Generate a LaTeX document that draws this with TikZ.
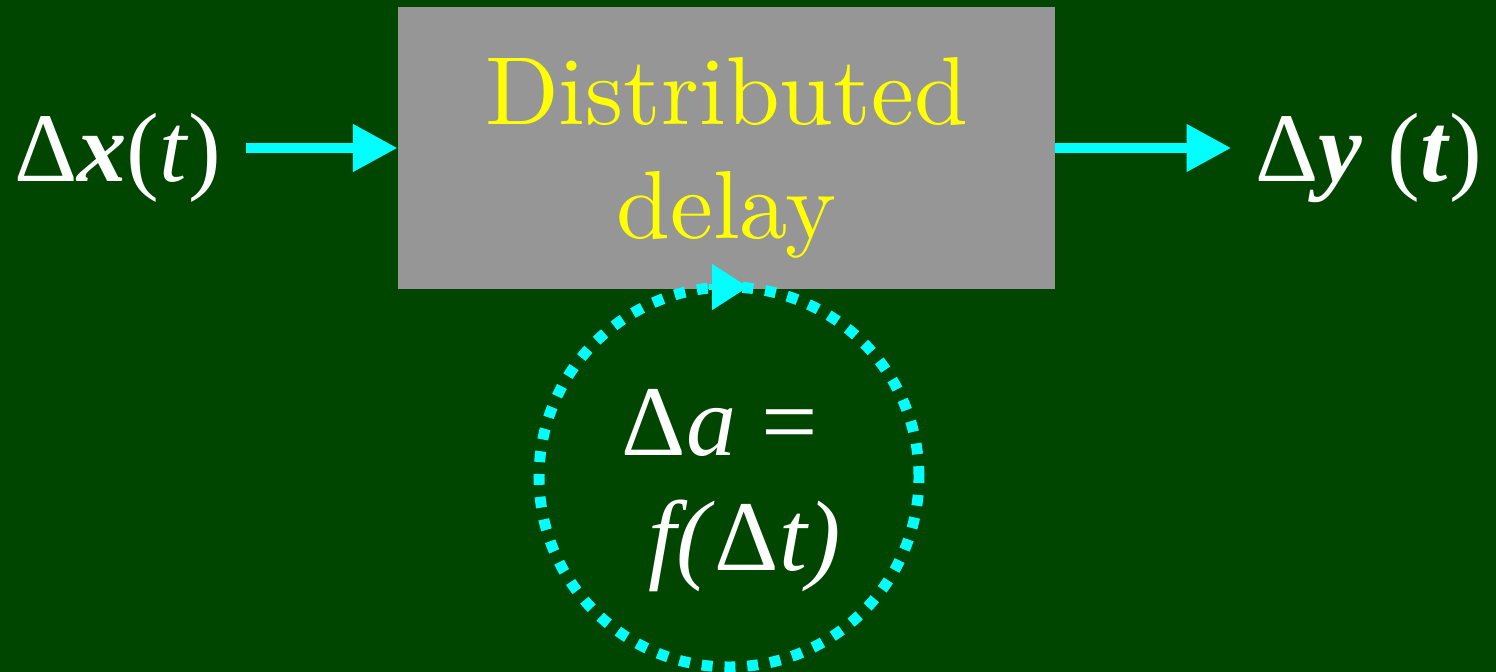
\documentclass[tikz,border=0pt]{standalone}
\usepackage{fontspec}
\usepackage{tikz}
\usetikzlibrary{arrows.meta,positioning,shapes.geometric}
\newfontfamily\timesrm{Liberation Serif}
\newfontfamily\schoolrm{lmroman10-regular.otf}
\definecolor{bggreen}{HTML}{004600}
\definecolor{boxgray}{HTML}{969696}
\definecolor{flowcyan}{HTML}{00FFFF}
\definecolor{labelyellow}{HTML}{FFFF00}

\begin{document}
\begin{tikzpicture}[x=0.02cm, y=-0.02cm,
  flow/.style     ={draw=flowcyan, line width=6.2pt, -{Triangle[length=25.5pt, width=25.5pt]}},
  loopTip/.style  ={draw=flowcyan, line width=3pt, -{Triangle[length=20.4pt, width=25.5pt]}},
  sigLabel/.style ={font={\timesrm\fontsize{56}{60}\selectfont}, text=white, inner xsep=13.5pt, inner ysep=0pt, anchor=base},
  delayBox/.style ={rectangle, fill=boxgray, minimum width=13.14cm, minimum height=5.64cm, inner sep=0pt,
                    align=center, font={\schoolrm\fontsize{55}{64.6}\selectfont}, text=labelyellow, text depth=0pt},
  loopCircle/.style={circle, draw=flowcyan, line width=6.2pt, dash pattern=on 6.2pt off 6.8pt,
                    minimum size=7.6cm, inner sep=0pt, outer sep=0pt},
  loopText/.style ={font={\timesrm\fontsize{57}{65.8}\selectfont}, text=white, align=center,
                    inner sep=0pt, text depth=0pt, anchor=south},
]
\fill[bggreen] (0,0) rectangle (1496,672);
\useasboundingbox (0,0) rectangle (1496,672);

% block and signals
\node[delayBox] (delay) at (726.5,148) {Distributed\\delay};
\node[sigLabel] (xin)  at (118,182)  {Δ\textbf{\textit{x}}(\textit{t})};
\node[sigLabel] (yout) at (1369,182) {Δ\textbf{\textit{y}}~(\textbf{\textit{t}})};

\draw[flow] (xin.east |- delay.west) -- (delay.west);
\draw[flow] (delay.east) -- (yout.west |- delay.east);

% feedback loop
\node[loopCircle] (loop) at (729,477) {};
\node[loopText] (rule) at (732,571) {Δ\textit{a} =\hspace*{14pt}\\~\textit{f(}Δ\textit{t)}};
\draw[loopTip] (loop.north) ++(-20,0) -- ++(39,0);
\end{tikzpicture}
\end{document}
